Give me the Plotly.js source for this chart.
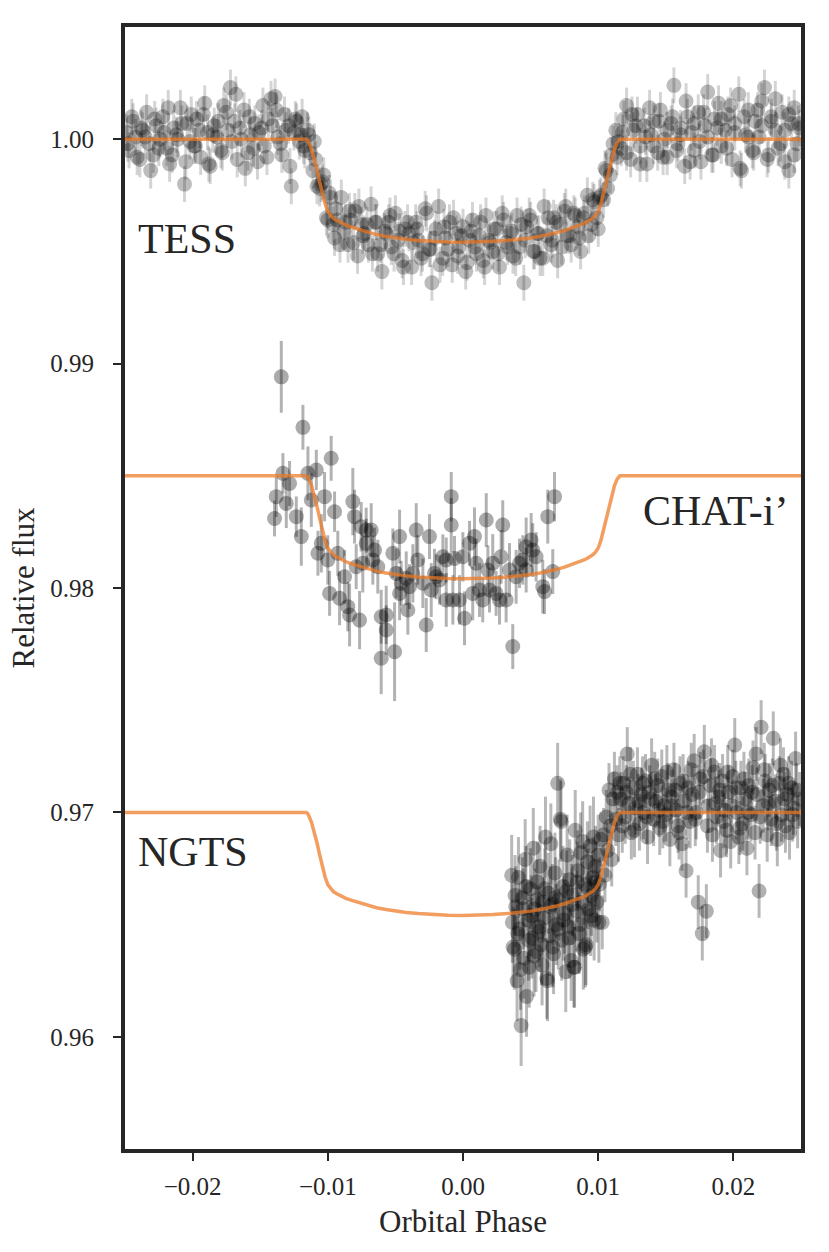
<!DOCTYPE html>
<html>
<head>
<meta charset="utf-8">
<script src="https://cdn.plot.ly/plotly-3.0.1.min.js"></script>
<style>html,body{margin:0;padding:0;background:#fff;}#chart{width:829px;height:1252px;}</style>
</head>
<body>
<div id="chart"></div>
<script>
// ---------- TESS (first set) ----------
const tessPhase = [
-0.0249,-0.0247,-0.0244,-0.0242,-0.0239,-0.0237,-0.0234,-0.0232,-0.0229,-0.0227,-0.0224,-0.0222,-0.0219,-0.0217,-0.0214,-0.0212,-0.0209,-0.0206,-0.0204,-0.0202,-0.0199,-0.0197,-0.0194,-0.0192,-0.0189,-0.0187,-0.0184,-0.0182,-0.0179,-0.0177,-0.0174,-0.0172,-0.0169,-0.0167,-0.0164,-0.0162,-0.0159,-0.0157,-0.0154,-0.0152,-0.0149,-0.0147,-0.0144,-0.0142,-0.0139,-0.0137,-0.0134,-0.0132,-0.0129,-0.0127,-0.0125,-0.0123,-0.0121,-0.0119,-0.0117,
-0.0115,-0.0113,-0.0110,-0.0108,-0.0105,-0.0103,-0.0100,-0.0098,-0.0095,-0.0093,-0.0090,-0.0088,-0.0085,-0.0083,-0.0080,-0.0078,-0.0075,-0.0073,-0.0070,-0.0068,-0.0065,-0.0063,-0.0060,-0.0058,-0.0055,-0.0053,-0.0050,-0.0048,-0.0045,-0.0043,-0.0040,-0.0038,-0.0035,-0.0033,-0.0030,-0.0028,-0.0025,-0.0023,-0.0020,-0.0018,-0.0015,-0.0013,-0.0010,-0.0008,-0.0005,-0.0003,0.0000,0.0002,0.0005,0.0007,0.0010,0.0012,0.0015,0.0017,0.0020,0.0022,0.0025,0.0027,0.0030,0.0032,0.0035,0.0037,0.0040,0.0042,0.0045,0.0047,0.0050,0.0052,0.0055,0.0057,0.0060,0.0062,0.0065,0.0067,0.0070,0.0072,0.0075,0.0077,0.0080,0.0082,0.0085,0.0087,0.0090,0.0092,0.0095,0.0097,0.0100,0.0102,0.0105,0.0107,0.0110,0.0113,0.0115,
0.0117,0.0119,0.0121,0.0124,0.0126,0.0129,0.0131,0.0134,0.0136,0.0139,0.0141,0.0144,0.0146,0.0149,0.0151,0.0154,0.0156,0.0159,0.0161,0.0164,0.0166,0.0169,0.0171,0.0174,0.0176,0.0179,0.0181,0.0184,0.0186,0.0189,0.0191,0.0194,0.0196,0.0199,0.0201,0.0204,0.0206,0.0209,0.0211,0.0214,0.0216,0.0219,0.0221,0.0223,0.0226,0.0228,0.0231,0.0233,0.0236,0.0238,0.0241,0.0243,0.0245,0.0247,0.0249
];
const tessFlux = [
1.0003,0.9995,1.0008,1.0001,0.9991,1.0004,1.0012,0.9998,0.9993,1.0006,1.0000,1.0010,0.9996,0.9989,1.0005,1.0002,1.0014,0.9980,1.0007,0.9999,0.9997,1.0009,0.9992,1.0011,1.0003,0.9988,1.0006,1.0001,0.9995,1.0015,1.0004,1.0023,1.0008,0.9991,1.0000,1.0013,0.9994,1.0002,1.0007,0.9990,1.0005,0.9997,1.0009,1.0018,1.0019,1.0001,0.9993,1.0011,1.0006,0.9979,1.0003,1.0008,0.9999,1.0010,0.9995,
1.0004,0.9994,0.9999,0.9979,0.9980,0.9984,0.9964,0.9974,0.9956,0.9964,0.9974,0.9959,0.9953,0.9964,0.9968,0.9948,0.9962,0.9958,0.9953,0.9971,0.9963,0.9949,0.9941,0.9959,0.9963,0.9952,0.9967,0.9955,0.9946,0.9960,0.9958,0.9943,0.9963,0.9955,0.9949,0.9969,0.9951,0.9936,0.9960,0.9970,0.9947,0.9956,0.9963,0.9944,0.9958,0.9952,0.9961,0.9941,0.9955,0.9964,0.9949,0.9957,0.9946,0.9966,0.9954,0.9950,0.9960,0.9943,0.9964,0.9954,0.9958,0.9948,0.9966,0.9952,0.9936,0.9961,0.9964,0.9950,0.9958,0.9947,0.9970,0.9957,0.9953,0.9965,0.9946,0.9962,0.9968,0.9957,0.9953,0.9967,0.9961,0.9950,0.9967,0.9975,0.9962,0.9972,0.9960,0.9975,0.9987,0.9978,0.9993,1.0004,0.9999,
0.9996,1.0009,1.0015,0.9991,1.0004,1.0011,0.9997,1.0006,0.9989,1.0002,1.0008,0.9994,1.0013,1.0000,0.9992,1.0007,1.0024,0.9998,1.0005,0.9988,1.0010,1.0003,0.9995,1.0012,0.9990,1.0006,1.0001,0.9993,1.0009,1.0016,0.9997,1.0004,1.0011,0.9991,1.0007,1.0020,0.9986,1.0002,1.0013,0.9995,1.0008,1.0001,1.0017,1.0023,0.9993,1.0010,1.0004,0.9996,1.0012,0.9990,0.9986,1.0007,1.0014,0.9998,1.0005
];
// ---------- TESS (second set) ----------
const tessPhase2 = [
-0.0248,-0.0245,-0.0241,-0.0238,-0.0235,-0.0231,-0.0228,-0.0225,-0.0221,-0.0218,-0.0215,-0.0211,-0.0208,-0.0205,-0.0201,-0.0198,-0.0195,-0.0191,-0.0188,-0.0185,-0.0181,-0.0178,-0.0175,-0.0171,-0.0168,-0.0165,-0.0161,-0.0158,-0.0155,-0.0151,-0.0148,-0.0145,-0.0141,-0.0138,-0.0135,-0.0131,-0.0128,-0.0124,-0.0120,-0.0118,
-0.0114,-0.0111,-0.0109,-0.0106,-0.0104,-0.0101,-0.0099,-0.0096,-0.0094,-0.0091,-0.0087,-0.0084,-0.0081,-0.0077,-0.0074,-0.0071,-0.0067,-0.0064,-0.0061,-0.0057,-0.0054,-0.0051,-0.0047,-0.0044,-0.0041,-0.0037,-0.0034,-0.0031,-0.0027,-0.0024,-0.0021,-0.0017,-0.0014,-0.0011,-0.0007,-0.0004,-0.0001,0.0003,0.0006,0.0009,0.0013,0.0016,0.0019,0.0023,0.0026,0.0029,0.0033,0.0036,0.0039,0.0043,0.0046,0.0049,0.0053,0.0056,0.0059,0.0063,0.0066,0.0069,0.0073,0.0076,0.0079,0.0083,0.0086,0.0089,0.0093,0.0096,0.0099,0.0101,0.0104,0.0106,0.0109,0.0111,0.0114,
0.0118,0.0121,0.0125,0.0128,0.0131,0.0135,0.0138,0.0141,0.0145,0.0148,0.0151,0.0155,0.0158,0.0161,0.0165,0.0168,0.0171,0.0175,0.0178,0.0181,0.0185,0.0188,0.0191,0.0195,0.0198,0.0201,0.0205,0.0208,0.0211,0.0215,0.0218,0.0221,0.0225,0.0228,0.0231,0.0235,0.0238,0.0241,0.0245,0.0248
];
const tessFlux2 = [
0.9998,1.0010,0.9992,1.0005,1.0001,0.9986,1.0009,0.9996,1.0003,1.0014,0.9993,1.0000,1.0007,0.9990,1.0011,0.9997,1.0004,1.0016,0.9989,1.0002,1.0008,0.9994,1.0012,0.9999,1.0020,1.0005,0.9987,1.0010,0.9996,1.0003,1.0015,0.9992,1.0006,1.0013,0.9998,1.0004,0.9988,1.0009,1.0002,0.9997,
1.0002,0.9986,0.9991,0.9978,0.9981,0.9965,0.9976,0.9962,0.9969,0.9953,0.9963,0.9968,0.9954,0.9970,0.9957,0.9962,0.9949,0.9963,0.9953,0.9958,0.9966,0.9949,0.9959,0.9943,0.9963,0.9954,0.9960,0.9947,0.9967,0.9951,0.9956,0.9944,0.9961,0.9951,0.9965,0.9948,0.9957,0.9945,0.9959,0.9952,0.9963,0.9943,0.9955,0.9960,0.9949,0.9967,0.9952,0.9959,0.9947,0.9962,0.9955,0.9966,0.9950,0.9958,0.9947,0.9965,0.9955,0.9963,0.9952,0.9970,0.9957,0.9966,0.9956,0.9965,0.9957,0.9973,0.9965,0.9974,0.9973,0.9986,0.9984,0.9998,0.9992,
1.0003,0.9994,1.0011,1.0006,0.9989,1.0001,1.0014,0.9997,1.0008,0.9992,1.0004,1.0010,0.9995,1.0002,1.0017,0.9990,1.0007,0.9999,1.0012,1.0021,0.9993,1.0005,1.0009,0.9996,1.0015,1.0003,0.9987,1.0010,1.0001,0.9994,1.0013,1.0006,0.9991,1.0008,1.0018,0.9998,1.0004,1.0011,0.9993,1.0007
];
const tessErr = 0.0008;

// ---------- CHAT-i' ----------
const chatPhase = [
-0.01344,-0.01184,-0.01332,-0.01283,-0.01381,-0.01394,-0.01307,-0.01233,-0.01196,-0.01147,
-0.01085,-0.00975,-0.01122,-0.01024,-0.00950,-0.01073,-0.01048,-0.01000,-0.00926,-0.00876,
-0.00987,-0.00913,-0.00852,-0.00839,-0.00765,-0.00815,-0.00802,-0.00753,-0.00716,-0.00679,
-0.00716,-0.00654,-0.00741,-0.00667,-0.00630,-0.00790,-0.00605,-0.00568,-0.00568,-0.00605,
-0.00506,-0.00519,-0.00469,-0.00494,-0.00457,-0.00469,-0.00408,-0.00396,-0.00346,-0.00334,
-0.00371,-0.00272,-0.00248,-0.00297,-0.00235,-0.00198,-0.00174,-0.00124,-0.00149,-0.00087,
-0.00087,-0.00063,-0.00026,0.00011,-0.00001,0.00048,0.00085,0.00098,0.00072,0.00146,
0.00172,0.00184,0.00220,0.00245,0.00282,0.00294,0.00319,0.00368,0.00393,0.00418,
0.00467,0.00504,0.00541,0.00590,0.00603,0.00627,0.00677,0.00664,0.00442,0.00516,
0.00467,-0.00211,-0.00420,-0.00124,-0.00075,0.00122,0.00270,0.00344,0.00196
];
const chatFlux = [
0.98941,0.98716,0.98511,0.98466,0.98407,0.98310,0.98377,0.98318,0.98229,0.98511,
0.98526,0.98578,0.98392,0.98407,0.98340,0.98155,0.98199,0.98125,0.98155,0.98050,
0.97976,0.97954,0.97917,0.97880,0.97857,0.98385,0.98318,0.98273,0.98258,0.98258,
0.98199,0.98169,0.98110,0.98125,0.98095,0.98095,0.97872,0.97880,0.97813,0.97687,
0.97716,0.98155,0.98229,0.98065,0.98021,0.97976,0.97902,0.98006,0.98258,0.98125,
0.98065,0.97835,0.98229,0.98021,0.97991,0.98050,0.98036,0.97947,0.98139,0.98407,
0.98281,0.98132,0.97947,0.97865,0.98139,0.98199,0.98229,0.98110,0.97976,0.97947,
0.98303,0.98080,0.98110,0.97976,0.98139,0.98281,0.97947,0.97739,0.98050,0.98110,
0.98184,0.98214,0.98139,0.98006,0.97984,0.98318,0.98407,0.98073,0.98125,0.98169,
0.98080,0.98065,0.98043,0.98125,0.97947,0.97991,0.97947,0.98080,0.97991
];
const chatErr = [
0.0016,0.0010,0.0009,0.0010,0.0009,0.0008,0.0011,0.0009,0.0013,0.0012,
0.0009,0.0010,0.0012,0.0011,0.0009,0.0010,0.0013,0.0011,0.0010,0.0012,
0.0010,0.0012,0.0011,0.0014,0.0013,0.0015,0.0012,0.0011,0.0010,0.0012,
0.0011,0.0010,0.0013,0.0011,0.0012,0.0010,0.0012,0.0013,0.0011,0.0016,
0.0022,0.0011,0.0012,0.0011,0.0010,0.0012,0.0011,0.0010,0.0012,0.0011,
0.0013,0.0012,0.0010,0.0011,0.0012,0.0010,0.0011,0.0012,0.0010,0.0011,
0.0012,0.0010,0.0011,0.0012,0.0011,0.0010,0.0013,0.0011,0.0012,0.0010,
0.0012,0.0011,0.0013,0.0010,0.0012,0.0011,0.0010,0.0010,0.0012,0.0011,
0.0013,0.0012,0.0011,0.0012,0.0010,0.0012,0.0011,0.0010,0.0011,0.0012,
0.0010,0.0011,0.0012,0.0010,0.0011,0.0012,0.0011,0.0012,0.0010
];

// ---------- NGTS (in transit) ----------
const ngtsInPhase = [
0.0036,0.0037,0.0038,0.0039,0.0040,0.0041,0.0042,0.0043,0.0044,0.0045,0.0046,0.0047,0.0048,0.0049,0.0050,0.0051,0.0052,0.0053,0.0054,0.0055,0.0056,0.0057,0.0058,0.0059,0.0060,0.0061,0.0062,0.0063,0.0064,0.0065,0.0066,0.0067,0.0068,0.0069,0.0070,0.0071,0.0072,0.0073,0.0074,0.0075,0.0076,0.0077,0.0078,0.0079,0.0080,0.0081,0.0082,0.0083,0.0084,0.0085,0.0086,0.0087,0.0088,0.0089,0.0090,0.0091,0.0092,0.0093,0.0094,0.0095,0.0096,0.0097,0.0098,0.0099,0.0100,
0.00365,0.00385,0.00405,0.00425,0.00445,0.00465,0.00485,0.00505,0.00525,0.00545,0.00565,0.00585,0.00605,0.00625,0.00645,0.00665,0.00685,0.00705,0.00725,0.00745,0.00765,0.00785,0.00805,0.00825,0.00845,0.00865,0.00885,0.00905,0.00925,0.00945,0.00965,0.00985,0.01005
];
const ngtsInFlux = [
0.9672,0.9640,0.9639,0.9658,0.9625,0.9671,0.9648,0.9605,0.9662,0.9635,0.9679,0.9618,0.9652,0.9631,0.9666,0.9644,0.9684,0.9657,0.9638,0.9669,0.9647,0.9676,0.9641,0.9660,0.9653,0.9689,0.9626,0.9664,0.9645,0.9686,0.9659,0.9637,0.9673,0.9650,0.9713,0.9661,0.9697,0.9643,0.9667,0.9655,0.9629,0.9681,0.9649,0.9670,0.9634,0.9663,0.9631,0.9692,0.9656,0.9674,0.9646,0.9682,0.9660,0.9639,0.9668,0.9641,0.9678,0.9657,0.9685,0.9663,0.9671,0.9652,0.9676,0.9660,0.9681,
0.9651,0.9663,0.9646,0.9630,0.9657,0.9667,0.9643,0.9654,0.9636,0.9661,0.9649,0.9632,0.9666,0.9625,0.9658,0.9640,0.9662,0.9648,0.9696,0.9652,0.9665,0.9644,0.9659,0.9631,0.9669,0.9650,0.9687,0.9640,0.9666,0.9654,0.9689,0.9669,0.9651
];
const ngtsInErr = 0.0018;

// ---------- NGTS (egress and after) ----------
const ngtsOutPhase = [
0.0101,0.0102,0.0103,0.0104,0.0105,0.0106,0.0107,0.0108,0.0109,0.0110,0.0111,0.0112,0.0113,0.0114,0.0115,0.0116,
0.01170,0.01185,0.01200,0.01215,0.01230,0.01245,0.01260,0.01275,0.01290,0.01305,0.01320,0.01335,0.01350,0.01365,0.01380,0.01395,0.01410,0.01425,0.01440,0.01455,0.01470,0.01485,0.01500,0.01515,0.01530,0.01545,0.01560,0.01575,0.01590,0.01605,0.01620,0.01635,0.01650,0.01665,0.01680,0.01695,0.01710,0.01725,0.01740,0.01755,0.01770,0.01785,0.01800,0.01815,0.01830,0.01845,0.01860,0.01875,0.01890,0.01905,0.01920,0.01935,0.01950,0.01965,0.01980,0.01995,0.02010,0.02025,0.02040,0.02055,0.02070,0.02085,0.02100,0.02115,0.02130,0.02145,0.02160,0.02175,0.02190,0.02205,0.02220,0.02235,0.02250,0.02265,0.02280,0.02295,0.02310,0.02325,0.02340,0.02355,0.02370,0.02385,0.02400,0.02415,0.02430,0.02445,0.02460,0.02475,0.02490,
0.01178,0.01208,0.01238,0.01268,0.01298,0.01328,0.01358,0.01388,0.01418,0.01448,0.01478,0.01508,0.01538,0.01568,0.01598,0.01628,0.01658,0.01688,0.01718,0.01748,0.01778,0.01808,0.01838,0.01868,0.01898,0.01928,0.01958,0.01988,0.02018,0.02048,0.02078,0.02108,0.02138,0.02168,0.02198,0.02228,0.02258,0.02288,0.02318,0.02348,0.02378,0.02408,0.02438,0.02468
];
const ngtsOutFlux = [
0.9668,0.9688,0.9651,0.9690,0.9672,0.9698,0.9683,0.9710,0.9694,0.9679,0.9706,0.9715,0.9697,0.9709,0.9690,0.9713,
0.9706,0.9713,0.9698,0.9726,0.9704,0.9691,0.9711,0.9702,0.9717,0.9695,0.9708,0.9700,0.9714,0.9689,0.9709,0.9721,0.9697,0.9705,0.9712,0.9693,0.9716,0.9703,0.9699,0.9710,0.9688,0.9707,0.9719,0.9701,0.9694,0.9713,0.9686,0.9705,0.9674,0.9711,0.9696,0.9708,0.9723,0.9700,0.9660,0.9715,0.9646,0.9727,0.9656,0.9703,0.9712,0.9690,0.9718,0.9698,0.9707,0.9683,0.9714,0.9701,0.9692,0.9709,0.9687,0.9716,0.9730,0.9700,0.9689,0.9711,0.9695,0.9706,0.9684,0.9712,0.9699,0.9720,0.9691,0.9708,0.9665,0.9738,0.9703,0.9714,0.9690,0.9710,0.9697,0.9733,0.9705,0.9688,0.9713,0.9699,0.9717,0.9694,0.9708,0.9691,0.9711,0.9702,0.9724,0.9696,0.9706,
0.9694,0.9709,0.9717,0.9692,0.9705,0.9713,0.9698,0.9706,0.9715,0.9701,0.9696,0.9718,0.9703,0.9710,0.9691,0.9714,0.9700,0.9719,0.9697,0.9709,0.9716,0.9694,0.9721,0.9704,0.9710,0.9696,0.9718,0.9703,0.9711,0.9693,0.9715,0.9700,0.9709,0.9726,0.9698,0.9719,0.9704,0.9712,0.9695,0.9721,0.9706,0.9713,0.9699,0.9710
];
const ngtsOutErr = 0.0012;

// ---------- transit models ----------
const modelPhase = [-0.025,-0.0116,-0.0115,-0.0114,-0.0112,-0.0110,-0.0108,-0.0106,-0.0104,-0.0102,-0.0100,-0.0098,-0.0096,-0.0094,-0.0092,-0.0090,-0.0087,-0.0084,-0.0080,-0.0075,-0.0070,-0.0064,-0.0057,-0.0050,-0.0042,-0.0033,-0.0022,-0.0011,0,0.0011,0.0022,0.0033,0.0042,0.0050,0.0057,0.0064,0.0070,0.0075,0.0080,0.0084,0.0087,0.0090,0.0092,0.0094,0.0096,0.0098,0.0100,0.0102,0.0104,0.0106,0.0108,0.0110,0.0112,0.0114,0.0115,0.0116,0.025];
const tessModel = [1.0,1.0,0.99995,0.99985,0.99955,0.99915,0.99865,0.99810,0.99760,0.99712,0.99678,0.99660,0.99648,0.99640,0.99633,0.99626,0.99618,0.99611,0.99603,0.99593,0.99584,0.99575,0.99567,0.99560,0.99554,0.99549,0.99545,0.99542,0.99541,0.99542,0.99545,0.99549,0.99554,0.99560,0.99567,0.99575,0.99584,0.99593,0.99603,0.99611,0.99618,0.99626,0.99633,0.99640,0.99648,0.99660,0.99678,0.99712,0.99760,0.99810,0.99865,0.99915,0.99955,0.99985,0.99995,1.0,1.0];
const chatModel = [0.985,0.985,0.98495,0.98485,0.98455,0.98415,0.98365,0.98310,0.98260,0.98212,0.98178,0.98160,0.98148,0.98140,0.98133,0.98126,0.98118,0.98111,0.98103,0.98093,0.98084,0.98075,0.98067,0.98060,0.98054,0.98049,0.98045,0.98042,0.98041,0.98042,0.98045,0.98049,0.98054,0.98060,0.98067,0.98075,0.98084,0.98093,0.98103,0.98111,0.98118,0.98126,0.98133,0.98140,0.98148,0.98160,0.98178,0.98212,0.98260,0.98310,0.98365,0.98415,0.98455,0.98485,0.98495,0.985,0.985];
const ngtsModel = [0.970,0.970,0.96995,0.96985,0.96955,0.96915,0.96865,0.96810,0.96760,0.96712,0.96678,0.96660,0.96648,0.96640,0.96633,0.96626,0.96618,0.96611,0.96603,0.96593,0.96584,0.96575,0.96567,0.96560,0.96554,0.96549,0.96545,0.96542,0.96541,0.96542,0.96545,0.96549,0.96554,0.96560,0.96567,0.96575,0.96584,0.96593,0.96603,0.96611,0.96618,0.96626,0.96633,0.96640,0.96648,0.96660,0.96678,0.96712,0.96760,0.96810,0.96865,0.96915,0.96955,0.96985,0.96995,0.970,0.970];

// ---------- axes / labels ----------
const xTickVals = [-0.02,-0.01,0.0,0.01,0.02];
const xTickText = ['\u22120.02','\u22120.01','0.00','0.01','0.02'];
const yTickVals = [0.96,0.97,0.98,0.99,1.00];
const yTickText = ['0.96','0.97','0.98','0.99','1.00'];
const instrumentNames = ['TESS','CHAT-i\u2019','NGTS'];
const labelPhase = [-0.0242,0.0242,-0.0242];
const labelFlux = [0.99555,0.98345,0.96825];

const FONT = '"Liberation Serif", "DejaVu Serif", serif';
const INK = '#262626';
const LINE = 'rgba(235,120,35,0.72)';

function modelTrace(y){
  return {x:modelPhase,y:y,mode:'lines',type:'scatter',hoverinfo:'skip',
    line:{color:LINE,width:3.5},showlegend:false};
}
function dataTrace(x,y,alpha,errSpec,errAlpha){
  return {x:x,y:y,mode:'markers',type:'scatter',showlegend:false,
    marker:{size:15,color:'rgba(0,0,0,'+alpha+')',line:{width:0}},
    error_y:Object.assign({visible:true,color:'rgba(0,0,0,'+errAlpha+')',thickness:3,width:0},errSpec)};
}

const traces = [
  dataTrace(tessPhase,tessFlux,0.26,{type:'constant',value:tessErr},0.17),
  dataTrace(tessPhase2,tessFlux2,0.26,{type:'constant',value:tessErr},0.17),
  dataTrace(chatPhase,chatFlux,0.33,{type:'data',array:chatErr},0.3),
  dataTrace(ngtsInPhase,ngtsInFlux,0.3,{type:'constant',value:ngtsInErr},0.28),
  dataTrace(ngtsOutPhase,ngtsOutFlux,0.3,{type:'constant',value:ngtsOutErr},0.28),
  modelTrace(tessModel), modelTrace(chatModel), modelTrace(ngtsModel)
];

const annotations = instrumentNames.map((t,i)=>({
  x:labelPhase[i], y:labelFlux[i], xref:'x', yref:'y', text:t, showarrow:false,
  xanchor: i===1 ? 'right' : 'left', yanchor:'middle',
  font:{family:FONT,size:42,color:INK}
}));

const axisCommon = {
  showgrid:false, zeroline:false, showline:true, mirror:true, linewidth:4, linecolor:INK,
  ticks:'outside', ticklen:8, tickwidth:2, tickcolor:INK,
  tickfont:{family:FONT,size:25,color:INK}
};

const layout = {
  width:829, height:1252,
  margin:{l:125,r:28,t:27,b:103},
  paper_bgcolor:'#ffffff', plot_bgcolor:'#ffffff',
  font:{family:FONT,color:INK},
  xaxis:Object.assign({},axisCommon,{range:[-0.025,0.025],tickvals:xTickVals,ticktext:xTickText,
    ticklabelstandoff:4,
    title:{text:'Orbital Phase',font:{family:FONT,size:31,color:INK},standoff:12}}),
  yaxis:Object.assign({},axisCommon,{range:[0.955,1.005],tickvals:yTickVals,ticktext:yTickText,
    ticklabelstandoff:14,
    title:{text:'Relative flux',font:{family:FONT,size:31,color:INK},standoff:7}}),
  annotations:annotations
};

Plotly.newPlot('chart',traces,layout,{staticPlot:true,displayModeBar:false});
</script>
</body>
</html>
